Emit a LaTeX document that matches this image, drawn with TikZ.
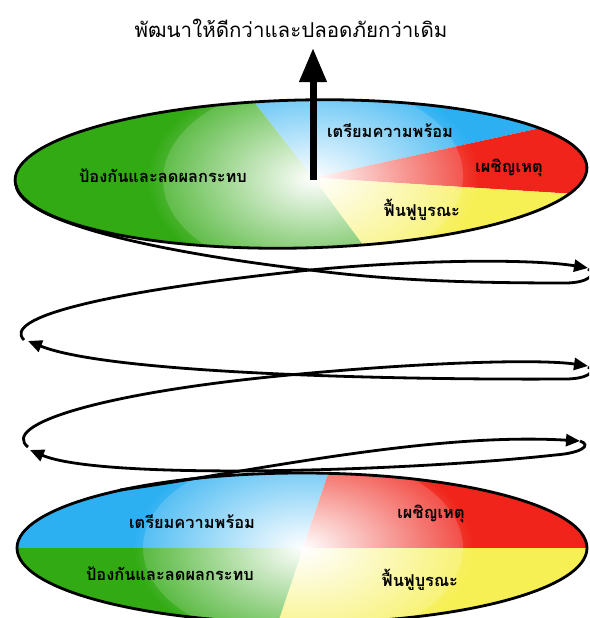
\documentclass[tikz,border=0pt]{standalone}
\usepackage{fontspec}
\newfontfamily\thaifont[Script=Thai]{Loma}
\usetikzlibrary{arrows.meta,fadings}
\definecolor{skyb}{RGB}{44,176,242}
\definecolor{fire}{RGB}{240,36,26}
\definecolor{sun}{RGB}{247,240,84}
\definecolor{leaf}{RGB}{50,170,20}
\tikzfading[name=glowfade, inner color=transparent!0, outer color=transparent!100]
\tikzset{
  rim/.style={draw=black, line width=2.8pt},
  lbl/.style={font=\thaifont\bfseries\fontsize{16.4}{20}\selectfont, text=black, inner sep=0pt},
  ttl/.style={font=\thaifont\fontsize{20.5}{25}\selectfont, text=black, inner sep=0pt},
  coil/.style={draw=black, line width=2.8pt},
  coilarr/.style={coil, -{Triangle[length=14pt,width=12pt]}},
  uparr/.style={draw=black, line width=7pt, -{Triangle[length=34pt,width=26pt]}}
}
\begin{document}
\begin{tikzpicture}[x=1pt,y=-1pt]
\useasboundingbox (0,0) rectangle (589,618);
\clip (0,0) rectangle (589,618);
\fill[white] (0,0) rectangle (589,618);

% ---------- top pie ----------
\begin{scope}[rotate around={1.3:(301,174)}]
  \coordinate (tc) at (313,178);
  \begin{scope}
    \clip (301,174) ellipse [x radius=286, y radius=74];
    \fill[skyb] (tc) -- (139,-56) -- (800,-56) -- (785,86) -- cycle;
    \fill[fire] (tc) -- (785,86) -- (831,222) -- cycle;
    \fill[sun] (tc) -- (831,222) -- (831,400) -- (451,373) -- cycle;
    \fill[leaf] (tc) -- (451,373) -- (-100,400) -- (-100,-56) -- (139,-56) -- cycle;
    \fill[white, opacity=0.15] (tc) ellipse [x radius=150, y radius=95];
    \fill[white, path fading=glowfade] (tc) ellipse [x radius=165, y radius=105];
  \end{scope}
  \draw[rim] (301,174) ellipse [x radius=286, y radius=74];
\end{scope}

% ---------- bottom pie ----------
\coordinate (bc) at (303,548);
\begin{scope}
  \clip (302,548) ellipse [x radius=285, y radius=75];
  \fill[skyb] (bc) -- (-50,548) -- (-50,400) -- (353,400) -- cycle;
  \fill[fire] (bc) -- (353,400) -- (650,400) -- (650,548) -- cycle;
  \fill[sun] (bc) -- (650,548) -- (650,700) -- (252,700) -- cycle;
  \fill[leaf] (bc) -- (252,700) -- (-50,700) -- (-50,548) -- cycle;
  \fill[white, opacity=0.15] (bc) ellipse [x radius=160, y radius=95];
  \fill[white, path fading=glowfade] (bc) ellipse [x radius=170, y radius=105];
\end{scope}
\draw[rim] (302,548) ellipse [x radius=285, y radius=75];

% ---------- coil ----------
\coordinate (s0) at (120,490);
\coordinate (r1) at (580,441);
\coordinate (l1) at (30,450);
\coordinate (l1s) at (28,447);
\coordinate (x2) at (300,374);
\coordinate (r2) at (588,366);
\coordinate (r2s) at (588,367);
\coordinate (l2) at (28,341);
\coordinate (l2s) at (24,340);
\coordinate (x1) at (310,270);
\coordinate (r3) at (588,268);
\coordinate (r3s) at (588,269);
\coordinate (tend) at (16,185);

\draw[coilarr] (s0) .. controls (250,472) and (430,432) .. (r1);
\draw[coilarr] (r1) .. controls (592,445) and (582,453) .. (555,455)
               .. controls (400,472) and (100,480) .. (l1);
\draw[coilarr] (l1s) .. controls (0,425) and (100,392) .. (x2)
               .. controls (430,362) and (540,359) .. (r2);
\draw[coilarr] (r2s) .. controls (597,371) and (588,379) .. (565,379)
               .. controls (400,380) and (110,374) .. (l2);
\draw[coilarr] (l2s) .. controls (2,318) and (100,292) .. (x1)
               .. controls (440,258) and (540,260) .. (r3);
\draw[coil] (r3s) .. controls (597,273) and (590,283) .. (565,283)
            .. controls (450,283) and (380,279) .. (x1)
            .. controls (180,255) and (20,225) .. (tend);

% ---------- up arrow ----------
\coordinate (ab) at (313,180);
\coordinate (at) at (313,48);
\draw[uparr] (ab) -- (at);

% ---------- texts ----------
\node[ttl] (title) at (291,28) {พัฒนาให้ดีกว่าและปลอดภัยกว่าเดิม};
\node[lbl] (t1) at (390,131) {เตรียมความพร้อม};
\node[lbl] (t2) at (509,168) {เผชิญเหตุ};
\node[lbl] (t3) at (422,210) {ฟื้นฟูบูรณะ};
\node[lbl] (t4) at (163,176) {ป้องกันและลดผลกระทบ};
\node[lbl] (b1) at (192,522) {เตรียมความพร้อม};
\node[lbl] (b2) at (431,514) {เผชิญเหตุ};
\node[lbl] (b3) at (420,580) {ฟื้นฟูบูรณะ};
\node[lbl] (b4) at (170,574) {ป้องกันและลดผลกระทบ};
\end{tikzpicture}
\end{document}
